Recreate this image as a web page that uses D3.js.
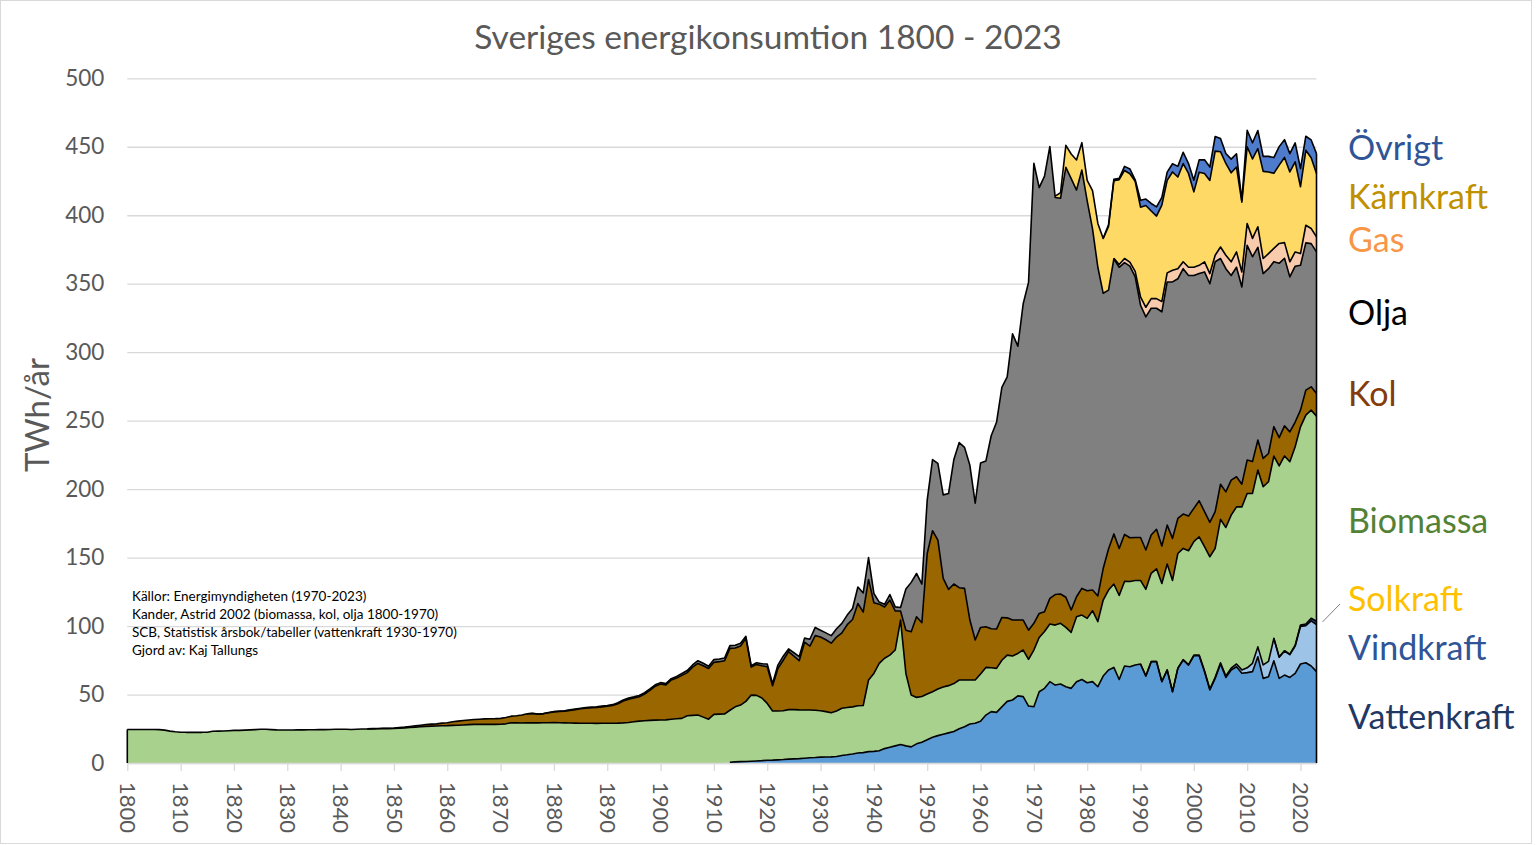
<!DOCTYPE html>
<html>
<head>
<meta charset="utf-8">
<title>Sveriges energikonsumtion 1800 - 2023</title>
<script src="https://cdn.jsdelivr.net/npm/d3@7"></script>
<style>
  body { margin: 0; background: #fff; }
  svg { display: block; font-family: Lato, "Open Sans", sans-serif; }
</style>
</head>
<body>
<script>

// TWh/år, one value per year from each series' start year
var firstYear = 1800, lastYear = 2023;

var biomassaStart = 1800;
var biomassa = [
  24.5,24.5,24.5,24.5,24.5,24.5,24.4,24.0,23.3,22.8,
  22.5,22.4,22.4,22.4,22.4,22.5,23.2,23.3,23.4,23.6,
  23.8,23.8,24.0,24.2,24.4,24.6,24.6,24.4,24.2,24.1,
  24.1,24.1,24.2,24.2,24.3,24.3,24.4,24.4,24.5,24.6,
  24.6,24.6,24.5,24.7,24.8,24.8,24.9,25.0,25.1,25.1,
  25.2,25.4,25.6,25.9,26.2,26.5,26.7,26.9,27.0,27.2,
  27.3,27.5,27.6,27.8,28.0,28.2,28.2,28.2,28.2,28.2,
  28.3,28.6,29.4,29.3,29.2,29.3,29.4,29.3,29.4,29.4,
  29.5,29.4,29.3,29.2,29.1,29.0,29.0,29.0,28.9,29.0,
  29.0,29.0,29.1,29.3,29.6,30.1,30.6,30.9,31.1,31.3,
  31.4,31.5,32.0,32.3,32.6,34.5,34.8,35.0,33.5,32.0,
  35.5,35.7,35.8,38.0,40.2,41.3,43.9,48.3,47.9,45.8,
  41.5,35.9,35.7,35.7,36.2,36.0,35.6,35.2,34.9,34.5,
  33.9,33.1,32.2,33.2,34.5,34.5,34.4,34.5,34.4,52.3,
  56.9,63.7,66.0,67.3,70.0,90.9,52.9,37.8,33.9,33.3,
  33.4,33.2,34.0,34.5,34.5,35.0,35.6,34.1,32.1,31.6,
  34.5,34.8,32.0,32.1,34.0,33.8,32.1,31.0,34.0,34.1,
  41.4,39.7,41.5,42.1,43.8,44.3,43.3,40.9,47.4,47.0,
  47.0,51.8,47.5,55.5,58.4,60.9,61.3,61.8,62.2,61.8,
  61.0,63.3,64.4,67.7,71.6,77.3,81.2,83.7,81.2,83.1,
  82.9,86.4,90.7,96.6,94.1,104.7,108.5,111.7,114.7,119.0,
  127.3,124.1,129.1,130.1,131.2,133.0,139.5,142.2,140.5,145.0,
  144.7,152.5,152.0,149.8
];

var vattenStart = 1913;
var vattenkraft = [
  0.5,0.8,1.0,1.1,1.3,1.5,1.7,
  2.0,2.1,2.3,2.5,2.8,3.0,3.2,3.5,3.8,4.0,
  4.3,4.4,4.5,4.8,5.5,6.0,6.6,7.3,7.6,8.3,
  8.5,9.0,10.5,11.5,12.5,13.5,12.5,11.8,14.0,15.2,
  17.0,18.8,20.0,21.0,22.0,23.0,25.0,26.5,28.5,29.0,
  30.5,35.0,37.5,37.0,41.0,45.0,46.0,49.0,48.5,41.6,
  41.1,52.0,54.5,59.4,56.9,57.7,55.7,54.5,59.4,61.0,
  58.6,59.4,55.7,63.5,67.9,69.8,61.0,70.8,70.3,71.5,
  72.3,63.5,74.0,74.0,59.4,67.9,52.0,69.1,75.2,71.5,
  78.3,78.3,66.7,53.3,61.8,72.3,62.5,67.9,70.3,65.5,
  66.0,66.7,77.6,61.8,63.0,74.7,61.8,64.2,62.5,65.5,
  72.3,73.2,70.8,66.7
];

var vindStart = 1990;
var vindkraft = [
  0.0,0.0,0.1,0.1,0.1,0.1,0.1,0.2,0.3,0.4,
  0.45,0.5,0.6,0.7,0.8,0.9,1.0,1.4,2.0,2.5,
  3.5,6.1,7.2,9.8,11.2,16.3,15.5,17.6,16.6,19.8,
  27.5,27.1,33.0,34.3
];

var solStart = 2015;
var solkraft = [0.1,0.1,0.2,0.4,0.7,1.0,1.2,1.9,2.5];

var kolStart = 1845;
var kol = [
  0.1,0.2,0.2,0.3,0.3,
  0.4,0.5,0.6,0.8,1.0,1.1,1.3,1.5,1.6,1.9,
  2.1,2.6,3.0,3.2,3.4,3.6,3.8,4.0,4.1,4.2,
  4.3,4.6,4.8,5.2,5.8,6.6,6.8,6.3,6.5,7.3,
  7.8,8.2,8.6,9.2,9.9,10.6,11.0,11.3,11.6,12.0,
  12.4,13.0,14.2,16.0,17.0,17.4,17.8,19.5,22.0,24.8,
  26.3,25.5,28.6,29.7,31.4,31.5,35.2,37.7,37.5,37.0,
  38.0,38.3,38.9,45.2,43.0,43.1,46.0,20.4,22.6,23.5,
  26.8,18.4,31.0,36.8,42.3,39.0,35.9,49.5,46.7,54.5,
  53.8,52.5,50.8,54.0,55.0,60.5,63.8,74.7,68.2,73.4,
  51.6,43.3,37.4,40.2,28.5,6.6,31.6,46.3,58.9,53.9,
  102.6,117.6,108.8,79.3,70.3,72.7,67.4,66.9,43.8,29.2,
  34.0,29.7,28.5,28.7,31.3,27.2,26.3,24.4,21.9,21.3,
  19.5,17.5,14.5,18.7,22.3,21.4,22.0,16.3,14.6,19.5,
  20.2,15.1,18.8,23.0,30.0,36.6,34.4,34.3,32.0,31.4,
  31.4,28.7,28.0,28.9,27.4,28.4,30.7,25.6,25.1,25.3,
  24.3,26.3,25.5,25.1,26.8,25.7,26.0,25.6,22.0,16.6,
  24.4,23.2,21.9,20.7,20.6,21.5,20.7,22.0,21.8,18.0,
  12.2,18.3,17.0,16.5
];

var oljaStart = 1875;
var olja = [
  0.1,0.1,0.2,0.2,0.2,
  0.3,0.3,0.3,0.4,0.4,0.4,0.5,0.5,0.5,0.6,
  0.6,0.6,0.7,0.7,0.8,0.8,0.9,0.9,1.0,1.0,
  1.0,1.0,1.0,1.2,1.3,1.5,1.6,2.0,1.8,1.7,
  2.0,2.0,2.0,2.0,2.0,2.0,1.5,1.0,1.2,1.5,
  2.0,1.5,2.5,3.0,2.0,2.5,3.0,3.0,5.0,6.0,
  5.0,5.0,5.5,6.0,7.0,7.0,8.0,12.0,14.0,16.0,
  6.8,1.5,2.0,4.0,3.0,2.5,30.0,36.0,31.6,28.3,
  39.0,52.0,56.0,61.0,70.0,91.0,106.0,103.0,113.0,100.0,
  120.0,121.0,141.0,151.0,168.0,176.0,209.0,200.0,231.0,254.0,
  336.0,311.0,318.0,330.0,290.0,289.0,314.0,315.0,297.0,305.5,
  284.7,263.7,240.0,201.0,189.0,200.8,205.3,198.5,198.3,190.3,
  169.6,170.3,165.6,161.4,171.0,177.6,187.3,175.0,179.2,175.7,
  170.1,165.9,175.1,174.3,182.5,164.8,163.0,149.4,153.0,144.0,
  156.8,149.6,140.8,135.0,135.0,120.5,127.3,122.4,113.2,113.8,
  105.8,107.5,104.6,103.4
];

var gasStart = 1985;
var gas = [
  0.5,2.0,3.0,3.0,4.0,
  6.0,7.0,7.0,7.0,7.4,6.6,8.5,7.3,5.0,6.0,
  6.0,6.0,7.4,7.4,4.8,8.4,9.8,10.0,11.2,11.0,
  16.0,13.4,15.0,11.0,11.0,9.7,14.5,11.4,11.0,10.4,
  8.5,12.9,11.0,11.0
];

var karnStart = 1974;
var karnkraft = [
  1.0,4.0,16.0,18.0,22.0,20.0,
  15.0,28.0,32.0,40.0,46.5,56.6,62.0,64.3,64.5,65.7,
  65.6,74.3,64.0,60.3,70.5,67.6,71.8,67.0,71.7,68.5,
  55.0,68.0,64.5,68.0,76.0,69.6,67.0,65.0,62.0,51.0,
  56.0,58.0,57.0,63.6,59.6,54.8,57.2,62.2,65.6,65.8,
  48.8,54.7,51.7,46.3
];

var ovrigtStart = 1983;
var ovrigt = [
  0.2,1.2,1.0,1.0,3.0,3.5,1.2,
  5.0,4.7,5.5,6.7,5.7,6.0,6.0,7.8,8.3,7.2,
  8.5,9.0,10.0,9.8,10.7,9.6,7.3,10.0,9.7,1.3,
  12.0,11.8,13.3,11.0,11.4,11.5,13.5,13.0,13.4,13.8,
  13.2,10.3,13.0,14.5
];

// bottom to top
var seriesNames = ["Vattenkraft","Vindkraft","Solkraft","Biomassa","Kol","Olja","Gas","Kärnkraft","Övrigt"];
var seriesData  = [vattenkraft, vindkraft, solkraft, biomassa, kol, olja, gas, karnkraft, ovrigt];
var seriesStart = [vattenStart, vindStart, solStart, biomassaStart, kolStart, oljaStart, gasStart, karnStart, ovrigtStart];
var fills       = ["#5b9bd5","#9dc3e6","#2e4a86","#a9d18e","#996600","#808080","#f8cbad","#ffd966","#4f7bcc"];

// legend labels, top to bottom on the right side
var legendNames  = ["Övrigt","Kärnkraft","Gas","Olja","Kol","Biomassa","Solkraft","Vindkraft","Vattenkraft"];
var legendColors = ["#2f5597","#bf9000","#f79646","#000000","#843c0c","#548235","#ffc000","#2f5597","#1f3864"];
var legendY      = [160, 209, 252, 325, 406, 533, 611, 660, 729];

var sources = [
  "Källor: Energimyndigheten (1970-2023)",
  "Kander, Astrid 2002 (biomassa, kol, olja 1800-1970)",
  "SCB, Statistisk årsbok/tabeller (vattenkraft 1930-1970)",
  "Gjord av: Kaj Tallungs"
];

var yTicks = d3.range(0, 501, 50);
var xTicks = d3.range(1800, 2021, 10);

var width = 1536, height = 845;
var plotLeft = 127.3, plotRight = 1316.5, plotTop = 78.3, plotBottom = 763;

var svg = d3.select("body").append("svg")
    .attr("width", width)
    .attr("height", height);

svg.append("rect")
    .attr("x", 0.5).attr("y", 0.5)
    .attr("width", 1531).attr("height", 843)
    .attr("fill", "#fff")
    .attr("stroke", "#d9d9d9");

var x = d3.scaleLinear().domain([firstYear, lastYear]).range([plotLeft, plotRight]);
var y = d3.scaleLinear().domain([0, 500]).range([plotBottom, plotTop]);

// table for the stack
var years = d3.range(firstYear, lastYear + 1);
var table = years.map(function(yr) {
  var row = { year: yr };
  seriesNames.forEach(function(name, i) {
    var k = yr - seriesStart[i];
    row[name] = (k >= 0 && k < seriesData[i].length) ? seriesData[i][k] : 0;
  });
  return row;
});

var stacked = d3.stack().keys(seriesNames)(table);

// gridlines + y labels
var yAxis = svg.append("g")
    .attr("transform", "translate(" + plotLeft + ",0)")
    .call(d3.axisLeft(y).tickValues(yTicks).tickSize(-(plotRight - plotLeft)).tickPadding(23));
yAxis.select(".domain").remove();
yAxis.selectAll(".tick line").attr("stroke", "#d9d9d9").attr("stroke-width", 1.3);
yAxis.selectAll(".tick text")
    .attr("fill", "#595959")
    .style("font-size", "22.5px")
    .style("font-family", "Lato, sans-serif");

// areas
var area = d3.area()
    .x(function(d) { return x(d.data.year); })
    .y0(function(d) { return y(d[0]); })
    .y1(function(d) { return y(d[1]); });

svg.append("g").selectAll("path")
  .data(stacked)
  .join("path")
    .attr("fill", function(d, i) { return fills[i]; })
    .attr("d", area);

// x axis
var xAxis = svg.append("g")
    .attr("transform", "translate(0," + plotBottom + ")")
    .call(d3.axisBottom(x).tickValues(xTicks).tickSize(8).tickSizeOuter(0).tickFormat(d3.format("d")));
xAxis.select(".domain").attr("stroke", "#d9d9d9").attr("stroke-width", 1.3);
xAxis.selectAll(".tick line").attr("stroke", "#d9d9d9").attr("stroke-width", 1.3);
xAxis.selectAll(".tick text")
    .attr("fill", "#595959")
    .attr("transform", "rotate(90)")
    .attr("x", 19).attr("y", 0).attr("dy", "0.35em")
    .style("text-anchor", "start")
    .style("font-size", "22px")
    .style("font-family", "Lato, sans-serif");

// outlines on top of every layer
var topLine = d3.line()
    .defined(function(d) { return d.data.year >= d.start; })
    .x(function(d) { return x(d.data.year); })
    .y(function(d) { return y(d[1]); });

svg.append("g").selectAll("path")
  .data(stacked)
  .join("path")
    .attr("fill", "none")
    .attr("stroke", "#000")
    .attr("stroke-width", 1.6)
    .attr("stroke-linejoin", "round")
    .attr("d", function(s, i) {
      return topLine(s.map(function(d) { d.start = seriesStart[i]; return d; }));
    });

// left and right edges of the stack
var lastLayer = stacked[stacked.length - 1];
svg.append("line")
    .attr("x1", x(firstYear)).attr("x2", x(firstYear))
    .attr("y1", y(0)).attr("y2", y(lastLayer[0][1]))
    .attr("stroke", "#000").attr("stroke-width", 1.6);
svg.append("line")
    .attr("x1", x(lastYear)).attr("x2", x(lastYear))
    .attr("y1", y(0)).attr("y2", y(lastLayer[lastLayer.length - 1][1]))
    .attr("stroke", "#000").attr("stroke-width", 1.6);

// title
svg.append("text")
    .attr("x", 768).attr("y", 49)
    .attr("text-anchor", "middle")
    .attr("fill", "#595959")
    .style("font-size", "33.5px")
    .text("Sveriges energikonsumtion 1800 - 2023");

// y title
svg.append("text")
    .attr("transform", "translate(49,415) rotate(-90)")
    .attr("text-anchor", "middle")
    .attr("fill", "#595959")
    .style("font-size", "33px")
    .text("TWh/år");

// sources
svg.append("g").selectAll("text")
  .data(sources)
  .join("text")
    .attr("x", 132)
    .attr("y", function(d, i) { return 601 + i * 18; })
    .attr("fill", "#000")
    .style("font-size", "13.5px")
    .text(function(d) { return d; });

// legend labels
svg.append("g").selectAll("text")
  .data(legendNames)
  .join("text")
    .attr("x", 1348)
    .attr("y", function(d, i) { return legendY[i]; })
    .attr("fill", function(d, i) { return legendColors[i]; })
    .style("font-size", "34px")
    .text(function(d) { return d; });

// leader line to Solkraft
svg.append("line")
    .attr("x1", x(lastYear) + 6).attr("y1", y(103))
    .attr("x2", 1340).attr("y2", 604)
    .attr("stroke", "#7f7f7f").attr("stroke-width", 1);

</script>
</body>
</html>
